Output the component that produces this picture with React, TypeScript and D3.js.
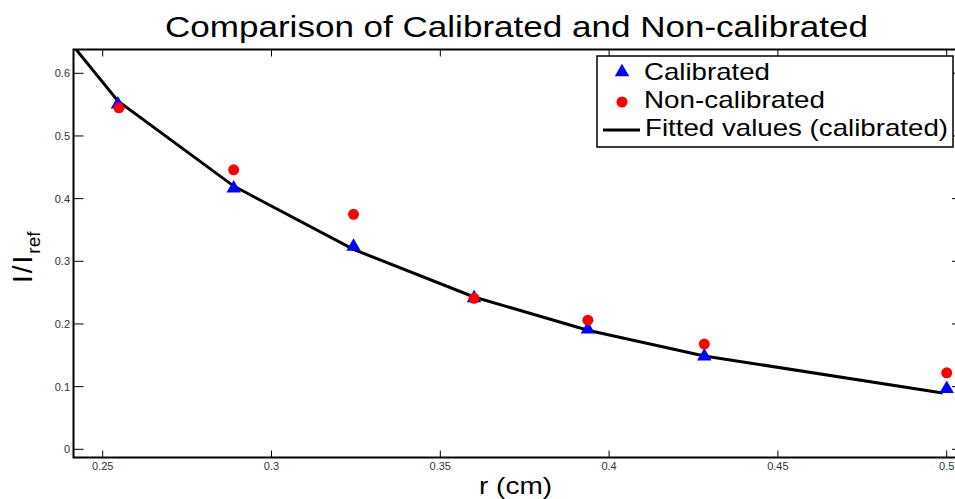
import React from "react";
import * as d3 from "d3";

const rCal = [0.2545, 0.2888, 0.3243, 0.36, 0.3937, 0.4282, 0.5];
const calibrated = [0.552, 0.418, 0.325, 0.243, 0.193, 0.15, 0.098];
const rNon = [0.2548, 0.2888, 0.3243, 0.36, 0.3937, 0.4282, 0.5];
const nonCalibrated = [0.545, 0.446, 0.375, 0.241, 0.206, 0.168, 0.122];
const rFit = [0.24, 0.2545, 0.2888, 0.3243, 0.36, 0.3937, 0.4282, 0.4988];
const fitted = [0.652, 0.556, 0.42, 0.319, 0.243, 0.19, 0.149, 0.09];
const xTicks = [0.25, 0.3, 0.35, 0.4, 0.45, 0.5];
const yTicks = [0, 0.1, 0.2, 0.3, 0.4, 0.5, 0.6];

const W = 955;
const H = 499;
const L = 73.5, R = 956, T = 49.5, B = 457.5;

export default function App() {
  const x = d3.scaleLinear().domain([0.25, 0.5]).range([102.7, 946.7]);
  const y = d3.scaleLinear().domain([0, 0.6]).range([449.3, 73.3]);
  const line = d3.line<number>().x((_, i) => x(rFit[i])).y((d) => y(d));
  const tri = d3.symbol().type(d3.symbolTriangle).size(90);
  const font = "Liberation Sans, Arial, Helvetica, sans-serif";
  return (
    <svg width={W} height={H} style={{ position: "absolute", left: 0, top: 0, background: "#fff" }} fontFamily={font}>
      <defs>
        <clipPath id="plot">
          <rect x={L} y={T} width={R - L} height={B - T} />
        </clipPath>
      </defs>
      <rect x={0} y={0} width={W} height={H} fill="#fff" />
      <text x={516.5} y={37} fontSize={29} textAnchor="middle" textLength={703} lengthAdjust="spacingAndGlyphs">
        Comparison of Calibrated and Non-calibrated
      </text>
      {xTicks.map((t) => (
        <g key={"x" + t}>
          <line x1={x(t)} x2={x(t)} y1={B} y2={B - 7} stroke="#000" strokeWidth={1} />
          <line x1={x(t)} x2={x(t)} y1={T} y2={T + 7} stroke="#000" strokeWidth={1} />
          <text x={x(t)} y={470} fontSize={11} fill="#333" textAnchor="middle">{String(t)}</text>
        </g>
      ))}
      {yTicks.map((t) => (
        <g key={"y" + t}>
          <line x1={L} x2={L + 10} y1={y(t)} y2={y(t)} stroke="#000" strokeWidth={1} />
          <line x1={R} x2={R - 4} y1={y(t)} y2={y(t)} stroke="#000" strokeWidth={1} />
          <text x={70} y={y(t) + 4} fontSize={11} fill="#333" textAnchor="end">{String(t)}</text>
        </g>
      ))}
      <g clipPath="url(#plot)">
        <path d={line(fitted) || ""} fill="none" stroke="#000" strokeWidth={3} />
        {calibrated.map((v, i) => (
          <path key={"c" + i} d={tri() || ""} transform={`translate(${x(rCal[i])},${y(v) + 1})`} fill="#0000ff" />
        ))}
        {nonCalibrated.map((v, i) => (
          <circle key={"n" + i} cx={x(rNon[i])} cy={y(v)} r={5.5} fill="#ff0000" />
        ))}
      </g>
      <rect x={L} y={T} width={R - L} height={B - T} fill="none" stroke="#000" strokeWidth={2} />
      <rect x={597} y={56} width={356} height={91} fill="#fff" stroke="#000" strokeWidth={1.5} />
      <path d={tri() || ""} transform="translate(622,72)" fill="#0000ff" />
      <text x={644} y={80} fontSize={24} textLength={126} lengthAdjust="spacingAndGlyphs">Calibrated</text>
      <circle cx={622} cy={102} r={5.5} fill="#ff0000" />
      <text x={644} y={108} fontSize={24} textLength={181} lengthAdjust="spacingAndGlyphs">Non-calibrated</text>
      <line x1={603} x2={640} y1={130} y2={130} stroke="#000" strokeWidth={3} />
      <text x={645} y={136} fontSize={24} textLength={303} lengthAdjust="spacingAndGlyphs">Fitted values (calibrated)</text>
      <text x={515.5} y={494} fontSize={24} textAnchor="middle" textLength={73} lengthAdjust="spacingAndGlyphs">r (cm)</text>
      <text transform="translate(32,283) rotate(-90)" fontSize={28}>
        <tspan letterSpacing={2}>I/I</tspan>
        <tspan fontSize={19} dy={8}>ref</tspan>
      </text>
    </svg>
  );
}
